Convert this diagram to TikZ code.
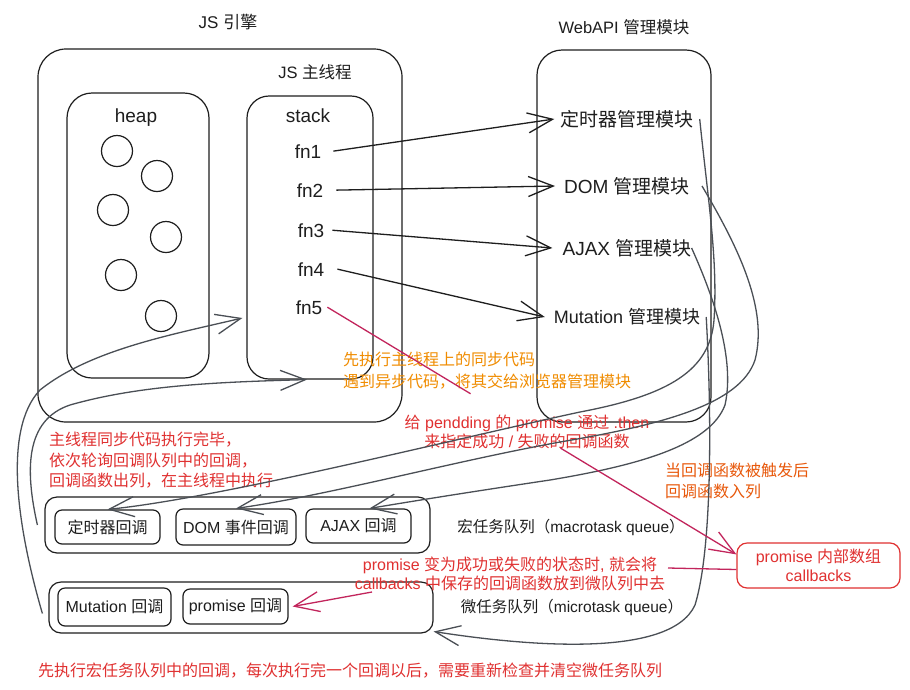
\documentclass[tikz,border=0pt]{standalone}
\usepackage{fontspec}
\setmainfont{Liberation Sans}
\newfontfamily\cjk{Noto Sans CJK SC}
\usetikzlibrary{arrows.meta,calc}
\definecolor{ink}{HTML}{1E1E1E}
\definecolor{curvegray}{HTML}{4A4F55}
\definecolor{redc}{HTML}{E03131}
\definecolor{orangec}{HTML}{F08C00}
\definecolor{orangered}{HTML}{E8590C}
\definecolor{pinkc}{HTML}{C2255C}
\newcommand\myfs[2]{\fontsize{#1}{#2}\selectfont}
\begin{document}
\begin{tikzpicture}[x=1pt,y=-1pt,
  box/.style={draw=ink,line width=1.2pt},
  cb/.style={box,rounded corners=7pt,inner sep=0pt,text=ink,font=\myfs{16}{19}},
  lbl/.style={inner sep=0pt,text=ink},
  barbtip/.style={-{Straight Barb[length=25pt,width=20pt]}},
  conn/.style={draw=ink,line width=1.3pt,barbtip},
  curve/.style={draw=curvegray,line width=1.3pt,barbtip},
  pinkline/.style={draw=pinkc,line width=1.3pt},
  fnlbl/.style={lbl,font=\myfs{19}{22},anchor=base},
  webmod/.style={lbl,inner xsep=6pt,font=\myfs{19}{22}},
  note/.style={inner sep=0pt,align=left,font=\myfs{16}{20.5}},
]
\fill[white] (0,0) rectangle (910,689);
\useasboundingbox (0,0) rectangle (910,689);

% containers
\node[box,rounded corners=28pt,minimum width=364pt,minimum height=373pt,inner sep=0pt] (engine) at (220,235.5) {};
\node[box,rounded corners=25pt,minimum width=142pt,minimum height=285pt,inner sep=0pt] (heap) at (138,235.5) {};
\node[box,rounded corners=22pt,minimum width=126pt,minimum height=283pt,inner sep=0pt] (stack) at (310,237.5) {};
\node[box,rounded corners=25pt,minimum width=174pt,minimum height=372pt,inner sep=0pt] (webapi) at (624,236) {};

% titles
\node[lbl,font=\myfs{17}{20}] (enginet) at (228,22) {JS {\cjk 引擎}};
\node[lbl,font=\myfs{16.5}{20}] (maint) at (315,72) {JS {\cjk 主线程}};
\node[lbl,font=\myfs{16.5}{20}] (webt) at (624,27) {WebAPI {\cjk 管理模块}};
\node[fnlbl] (heapt) at (136,122) {heap};
\node[fnlbl] (stackt) at (308,122) {stack};

% heap objects
\foreach \cx/\cy [count=\i] in {117/151,157/176,113/210,166/237,121/275,161/316}
  \draw[box] (\cx,\cy) circle[radius=15.5pt];

% stack frames
\node[fnlbl] (fn1) at (308,158) {fn1};
\node[fnlbl] (fn2) at (310,197) {fn2};
\node[fnlbl] (fn3) at (311,237) {fn3};
\node[fnlbl] (fn4) at (311,276) {fn4};
\node[fnlbl] (fn5) at (309,314) {fn5};

% web api modules
\node[webmod] (tm) at (627,119) {\cjk 定时器管理模块};
\node[webmod] (dm) at (627,186) {DOM {\cjk 管理模块}};
\node[webmod] (am) at (627,248) {AJAX {\cjk 管理模块}};
\node[webmod,font=\myfs{18}{21}] (mm) at (627,317) {Mutation {\cjk 管理模块}};

% queues
\node[box,rounded corners=12pt,minimum width=385pt,minimum height=56pt,inner sep=0pt] (macro) at (237.5,525) {};
\node[box,rounded corners=12pt,minimum width=384pt,minimum height=51pt,inner sep=0pt] (micro) at (241,607.5) {};
\node[cb,minimum width=105pt,minimum height=34pt] (cbT) at (107.5,527) {\cjk 定时器回调};
\node[cb,minimum width=120pt,minimum height=36pt] (cbD) at (236,527) {DOM {\cjk 事件回调}};
\node[cb,minimum width=105pt,minimum height=34pt] (cbA) at (358.5,526) {AJAX {\cjk 回调}};
\node[cb,minimum width=113pt,minimum height=38pt] (cbM) at (114.5,607) {Mutation {\cjk 回调}};
\node[cb,minimum width=105pt,minimum height=35pt] (cbP) at (235.5,606.5) {promise {\cjk 回调}};
\node[lbl,font=\myfs{15.5}{19}] (macrot) at (571,527) {{\cjk 宏任务队列（}macrotask queue{\cjk ）}};
\node[lbl,font=\myfs{15.5}{19}] (microt) at (572,607) {{\cjk 微任务队列（}microtask queue{\cjk ）}};

% promise callbacks box
\node[draw=redc,line width=1.2pt,rounded corners=10pt,minimum width=163pt,minimum height=45pt,inner sep=0pt,align=center,text=redc,font=\myfs{16}{18.5}] (prom) at (818.5,565.5) {promise {\cjk 内部数组}\\callbacks};

% notes
\node[note,text=orangec,anchor=west,font=\myfs{16}{22}] (n1) at (343,371) {\cjk 先执行主线程上的同步代码\\\cjk 遇到异步代码，将其交给浏览器管理模块};
\node[note,text=redc,align=center,font=\myfs{16}{19}] (n2) at (527,432) {{\cjk 给} pendding {\cjk 的} promise {\cjk 通过} .then\\{\cjk 来指定成功} / {\cjk 失败的回调函数}};
\node[note,text=redc,anchor=west] (n3) at (49,460.5) {\cjk 主线程同步代码执行完毕，\\\cjk 依次轮询回调队列中的回调，\\\cjk 回调函数出列，在主线程中执行};
\node[note,text=orangered,anchor=west,font=\myfs{16}{21}] (n4) at (665,481) {\cjk 当回调函数被触发后\\\cjk 回调函数入列};
\node[note,text=redc,align=center,font=\myfs{16}{18.5}] (n5) at (510,574) {promise {\cjk 变为成功或失败的状态时}, {\cjk 就会将}\\callbacks {\cjk 中保存的回调函数放到微队列中去}};
\node[note,text=redc,anchor=west,font=\myfs{16}{20}] (n6) at (38,671) {\cjk 先执行宏任务队列中的回调，每次执行完一个回调以后，需要重新检查并清空微任务队列};

% sync calls handed to web apis
\draw[conn] ([xshift=12pt]fn1.east) -- (tm.west);
\draw[conn] ([xshift=13pt]fn2.east) -- ([xshift=-3pt]dm.west);
\draw[conn] ([xshift=8pt]fn3.east) -- ([xshift=-4pt]am.west);
\draw[conn] ([xshift=13pt]fn4.east) -- ([xshift=-3pt]mm.west);

% callbacks enqueued
\draw[curve] (tm.east) .. controls (708,200) and (718,260) .. (714,320)
  .. controls (710,370) and (670,395) .. (580,412)
  .. controls (450,440) and (220,498) .. (cbT.north);
\draw[curve] ([xshift=6pt]dm.east) .. controls (740,250) and (768,310) .. (755,360)
  .. controls (740,405) and (660,425) .. (560,442)
  .. controls (450,462) and (330,495) .. (cbD.north);
\draw[curve] ([xshift=-6pt]am.east) .. controls (715,300) and (735,360) .. (725,405)
  .. controls (710,445) and (640,465) .. (550,480)
  .. controls (470,492) and (420,500) .. ([xshift=11pt]cbA.north);
\draw[curve] (mm.east) .. controls (712,420) and (712,550) .. (695,605)
  .. controls (670,660) and (520,645) .. ([yshift=-24pt]micro.east);

% event loop back to the stack
\draw[curve] ([xshift=-6pt,yshift=-6pt]micro.west) .. controls (18,530) and (2,430) .. (40,390)
  .. controls (90,350) and (170,335) .. ([xshift=-4pt,yshift=-80.5pt]stack.west);
\draw[curve] ([xshift=-7pt]macro.west) .. controls (25,470) and (25,420) .. (70,405)
  .. controls (140,385) and (220,382) .. ([xshift=-3pt]stack.south);

% promise arrows
\coordinate (s5) at ([xshift=5pt]fn5.east);
\coordinate (pe) at ([yshift=-12pt]prom.north west);
\coordinate (p1) at ($(s5)!0.35!(pe)$);
\coordinate (p2) at ($(s5)!0.57!(pe)$);
\draw[pinkline] (s5) -- (p1);
\draw[pinkline,barbtip] (p2) -- (pe);
\coordinate (q1) at (668,568);
\coordinate (q2) at (372,592);
\draw[pinkline] ([yshift=-4pt]prom.west) -- (q1);
\draw[pinkline,barbtip] (q2) -- ([xshift=4pt]cbP.east);
\end{tikzpicture}
\end{document}
